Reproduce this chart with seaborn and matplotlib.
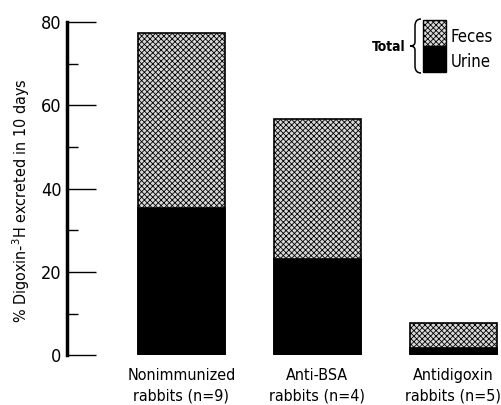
import matplotlib
matplotlib.use("Agg")
import matplotlib.pyplot as plt
import matplotlib.patches as mpatches
from matplotlib.path import Path
from matplotlib.ticker import MultipleLocator
import seaborn as sns

# Data
groups = ["Nonimmunized\nrabbits (n=9)", "Anti-BSA\nrabbits (n=4)", "Antidigoxin\nrabbits (n=5)"]
total = [77.3, 56.8, 7.8]   # feces + urine
urine = [35.4, 23.2, 1.7]
yticks = [0, 20, 40, 60, 80]

sns.set_style("ticks")
plt.rcParams["font.family"] = ["DejaVu Sans"]
plt.rcParams["font.stretch"] = "condensed"
plt.rcParams["text.color"] = "black"
plt.rcParams["axes.labelcolor"] = "black"
plt.rcParams["xtick.color"] = "black"
plt.rcParams["ytick.color"] = "black"
plt.rcParams["hatch.linewidth"] = 0.6
plt.rcParams["hatch.color"] = "#303030"

fig = plt.figure(figsize=(5.01, 4.05), dpi=100)
ax = fig.add_axes([0.134, 0.123, 0.866, 0.823])

# Total bars (stippled, feces part visible above urine)
sns.barplot(x=groups, y=total, color="#d8d8d8", width=0.64, ax=ax,
            edgecolor="black", linewidth=1.2, saturation=1)
for p in ax.patches:
    p.set_hatch("xxxxxx")
# Urine bars (solid black)
sns.barplot(x=groups, y=urine, color="black", width=0.64, ax=ax,
            edgecolor="black", linewidth=1.2, saturation=1)

ax.set_ylim(0, 80)
ax.set_xlim(-0.84, 2.35)
ax.set_yticks(yticks)
ax.yaxis.set_minor_locator(MultipleLocator(10))
ax.tick_params(axis="y", which="major", direction="in", length=21, width=1,
               labelsize=13, pad=4)
ax.tick_params(axis="y", which="minor", direction="in", length=8, width=1)
ax.tick_params(axis="x", length=0, labelsize=11.5, pad=9)
for lab in ax.get_xticklabels():
    lab.set_multialignment("center")
    lab.set_linespacing(1.45)
    lab.set_fontstretch("condensed")
for lab in ax.get_yticklabels():
    lab.set_fontstretch("condensed")

sns.despine(ax=ax, top=True, right=True, bottom=True)
ax.spines["left"].set_linewidth(2.5)
ax.spines["left"].set_color("black")

ax.set_ylabel("% Digoxin-$^3$H excreted in 10 days", fontsize=11.5,
              fontstretch="condensed")
ax.yaxis.set_label_coords(-0.081, 0.465)
ax.set_xlabel("")

# Legend drawn in figure pixels
W, H = 501, 405
def fx(x):
    return x / W
def fy(y):
    return 1 - y / H

fig.add_artist(mpatches.Rectangle((fx(423), fy(46)), fx(23), 26 / H,
                                  facecolor="#d8d8d8", hatch="xxxxxx",
                                  edgecolor="black", linewidth=1,
                                  transform=fig.transFigure))
fig.add_artist(mpatches.Rectangle((fx(423), fy(72)), fx(23), 26 / H,
                                  facecolor="black", edgecolor="black",
                                  linewidth=1, transform=fig.transFigure))
fig.text(fx(451), fy(37), "Feces", fontsize=12, va="center", ha="left")
fig.text(fx(451), fy(62), "Urine", fontsize=12, va="center", ha="left")
fig.text(fx(406), fy(47), "Total", fontsize=10, fontweight="bold",
         va="center", ha="right")

# curly brace
brace_px = [(421, 19), (415, 19), (415, 26), (415, 42), (415, 42),
            (415, 46), (410, 46), (415, 46), (415, 50), (415, 50),
            (415, 66), (415, 73), (421, 73)]
codes = [Path.MOVETO, Path.CURVE3, Path.CURVE3, Path.LINETO, Path.LINETO,
         Path.CURVE3, Path.CURVE3, Path.CURVE3, Path.CURVE3, Path.LINETO,
         Path.LINETO, Path.CURVE3, Path.CURVE3]
brace = Path([(fx(x), fy(y)) for x, y in brace_px], codes)
fig.add_artist(mpatches.PathPatch(brace, facecolor="none", edgecolor="black",
                                  linewidth=1.1, transform=fig.transFigure))

fig.savefig("out.png", dpi=100)
